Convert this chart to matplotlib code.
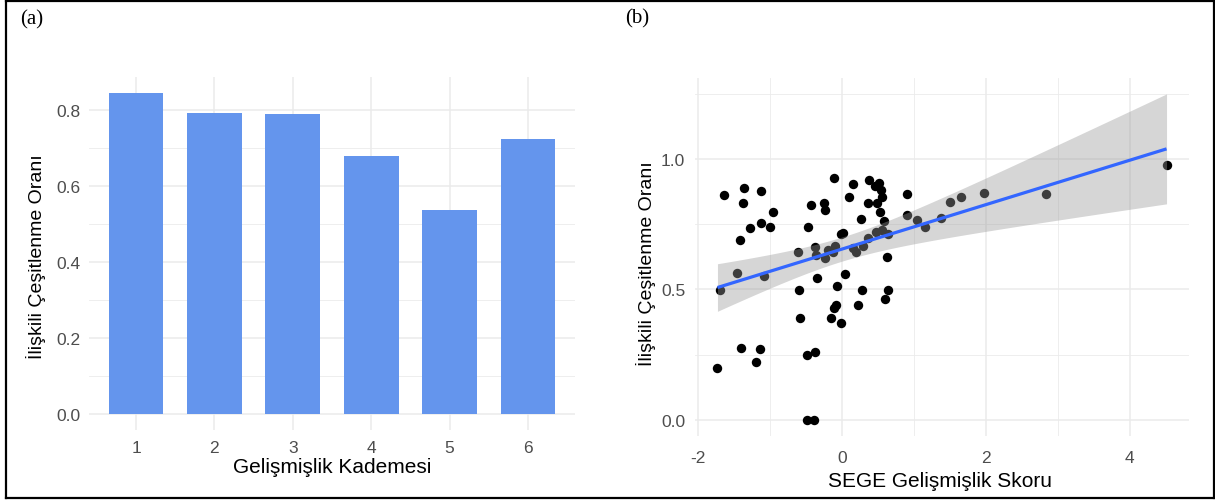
import numpy as np
import matplotlib
matplotlib.use("Agg")
import matplotlib.pyplot as plt
from matplotlib.lines import Line2D
from matplotlib.ticker import MultipleLocator

# ---------------- data ----------------
kademe = [1, 2, 3, 4, 5, 6]
kademe_oran = [0.845, 0.793, 0.789, 0.679, 0.536, 0.723]

sege_x = [-1.73, -1.70, -1.64, -1.46, -1.42, -1.40, -1.36, -1.38, -1.28, -1.19,
          -1.14, -1.12, -1.12, -1.09, -1.00, -0.96, -0.61, -0.60, -0.58, -0.49,
          -0.49, -0.39, -0.38, -0.47, -0.43, -0.37, -0.36, -0.34, -0.25, -0.24,
          -0.23, -0.20, -0.15, -0.13, -0.11, -0.08, -0.11, -0.09, -0.07, -0.02,
          -0.01, 0.01, 0.04, 0.10, 0.15, 0.16, 0.19, 0.22, 0.26, 0.28,
          0.29, 0.36, 0.37, 0.36, 0.46, 0.47, 0.48, 0.52, 0.54, 0.55,
          0.53, 0.56, 0.59, 0.60, 0.62, 0.64, 0.64, 0.91, 0.91, 1.04,
          1.16, 1.37, 1.50, 1.65, 1.97, 2.83, 4.51]
iliskili_oran = [0.199, 0.497, 0.863, 0.563, 0.688, 0.276, 0.890, 0.831, 0.737, 0.222,
                 0.272, 0.878, 0.754, 0.553, 0.740, 0.799, 0.644, 0.497, 0.390, 0.247,
                 0.000, 0.000, 0.260, 0.740, 0.824, 0.664, 0.632, 0.545, 0.833, 0.805,
                 0.619, 0.651, 0.391, 0.645, 0.427, 0.442, 0.929, 0.667, 0.515, 0.373,
                 0.712, 0.718, 0.560, 0.853, 0.905, 0.660, 0.642, 0.442, 0.771, 0.497,
                 0.667, 0.699, 0.921, 0.833, 0.899, 0.722, 0.833, 0.908, 0.882, 0.856,
                 0.796, 0.728, 0.763, 0.462, 0.623, 0.497, 0.713, 0.868, 0.786, 0.765,
                 0.738, 0.773, 0.837, 0.854, 0.872, 0.868, 0.976]

ylabel = "İlişkili Çeşitlenme Oranı"
xlabel_a = "Gelişmişlik Kademesi"
xlabel_b = "SEGE Gelişmişlik Skoru"

# ---------------- style ----------------
plt.rcParams['font.family'] = ['Liberation Sans', 'DejaVu Sans']
GRID = '#EBEBEB'
TICK = '#4D4D4D'
W, H = 1215, 502
fig = plt.figure(figsize=(W / 100, H / 100), dpi=100)


def px_axes(l, r, t, b):
    return fig.add_axes([l / W, 1 - b / H, (r - l) / W, (b - t) / H])


def ftext(xp, yp, s, **kw):
    return fig.text(xp / W, 1 - yp / H, s, ha='center', va='center', **kw)


def minimal(ax):
    for s in ax.spines.values():
        s.set_visible(False)
    ax.tick_params(length=0, labelsize=12.5, colors=TICK)
    ax.grid(True, which='major', color=GRID, lw=1.1, zorder=0)
    ax.grid(True, which='minor', color=GRID, lw=0.6, zorder=0)
    ax.tick_params(which='minor', length=0)
    ax.set_axisbelow(True)


# ---------------- panel (a) ----------------
axa = px_axes(89, 575, 78, 431)
minimal(axa)
axa.bar(kademe, kademe_oran, width=0.7, color='#6495ED', zorder=2)
axa.set_xlim(0.4, 6.6)
axa.set_ylim(-max(kademe_oran) * 0.05, max(kademe_oran) * 1.05)
axa.set_xticks(kademe)
axa.set_yticks([0, 0.2, 0.4, 0.6, 0.8])
axa.set_yticklabels(['0.0', '0.2', '0.4', '0.6', '0.8'])
axa.yaxis.set_minor_locator(MultipleLocator(0.1))
axa.grid(False, axis='x', which='minor')
axa.tick_params(axis='y', pad=6)
axa.tick_params(axis='x', pad=7.5)
ftext(332, 468, xlabel_a, fontsize=15)
ftext(36, 257, ylabel, fontsize=14, rotation=90)

# ---------------- panel (b) ----------------
x = np.array(sege_x)
y = np.array(iliskili_oran)
n = len(x)
slope, intercept = np.polyfit(x, y, 1)
resid = y - (slope * x + intercept)
s = np.sqrt(np.sum(resid ** 2) / (n - 2))
xg = np.linspace(x.min(), x.max(), 200)
yg = slope * xg + intercept
se = s * np.sqrt(1 / n + (xg - x.mean()) ** 2 / np.sum((x - x.mean()) ** 2))
tq = 1.99
lo, hi = yg - tq * se, yg + tq * se

axb = px_axes(695, 1189, 78.6, 437)
minimal(axb)
axb.scatter(x, y, s=46, color='black', linewidths=0, zorder=2)
axb.fill_between(xg, lo, hi, color='#999999', alpha=0.4, linewidth=0, zorder=3)
axb.plot(xg, yg, color='#3366FF', lw=2.3, zorder=4, solid_capstyle='butt')
xr = x.max() - x.min()
axb.set_xlim(x.min() - 0.05 * xr, x.max() + 0.05 * xr)
ymin, ymax = min(y.min(), lo.min()), max(y.max(), hi.max())
yr = ymax - ymin
axb.set_ylim(ymin - 0.05 * yr, ymax + 0.05 * yr)
axb.set_xticks([-2, 0, 2, 4])
axb.set_xticklabels(['-2', '0', '2', '4'])
axb.xaxis.set_minor_locator(MultipleLocator(1))
axb.set_yticks([0, 0.5, 1.0])
axb.set_yticklabels(['0.0', '0.5', '1.0'])
axb.yaxis.set_minor_locator(MultipleLocator(0.25))
axb.tick_params(axis='x', pad=10)
axb.tick_params(axis='y', pad=7)
ftext(940, 482, xlabel_b, fontsize=15)
ftext(646, 264, ylabel, fontsize=14, rotation=90)

# ---------------- panel labels & frame ----------------
ftext(32, 20, '(a)', fontsize=15, family='Liberation Serif')
ftext(637, 19, '(b)', fontsize=15, family='Liberation Serif')


def fline(x0, y0, x1, y1):
    fig.add_artist(Line2D([x0 / W, x1 / W], [1 - y0 / H, 1 - y1 / H],
                          color='black', lw=1.6, transform=fig.transFigure))


fline(6, 1.5, 1214, 1.5)
fline(6, 499, 1214, 499)
fline(6, 1.5, 6, 499)
fline(1214, 1.5, 1214, 499)

fig.savefig('out.png', dpi=100)
